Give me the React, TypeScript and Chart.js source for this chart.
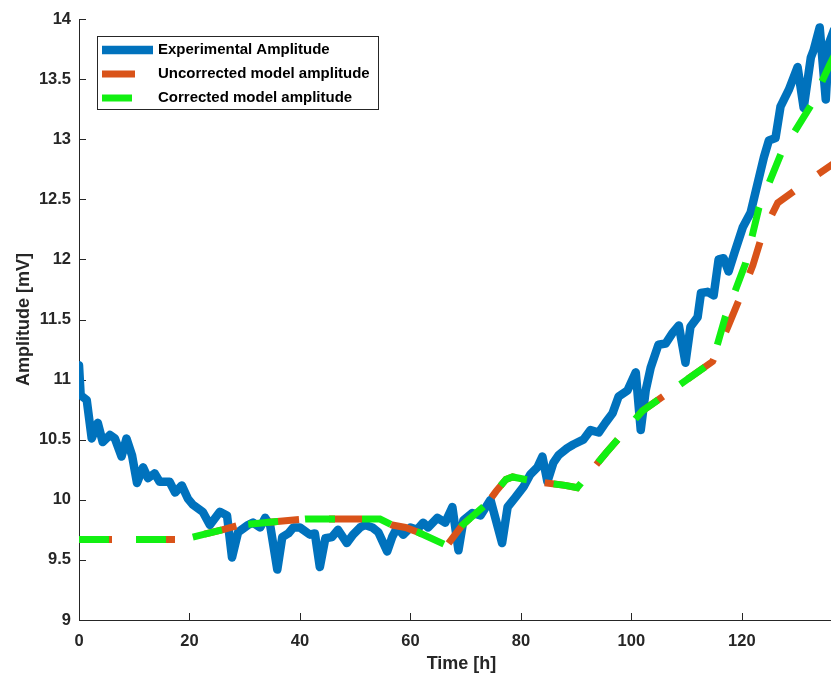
import React, { useEffect, useRef } from "react";
import { Chart, registerables } from "chart.js";

Chart.register(...registerables);

// ---------- data ----------
const EXP_T = [0, 0.3, 1.4, 2.3, 3.4, 4.3, 5.6, 6.5, 7.7, 8.6,
  9.6, 10.5, 11.6, 12.5, 13.7, 14.6, 16.4, 17.4, 18.6, 19.7,
  20.6, 22.4, 23.7, 25.5, 26.8, 27.7, 28.8, 30.6, 31.5, 32.8,
  33.7, 34.6, 35.9, 36.8, 37.9, 38.8, 40.0, 41.8, 42.7, 43.6,
  44.6, 45.8, 46.9, 48.5, 49.6, 50.9, 51.8, 53.1, 54.2, 55.8,
  56.7, 57.6, 58.7, 60.0, 61.2, 62.3, 63.2, 64.9, 66.3, 67.6,
  68.7, 69.6, 71.2, 72.7, 74.5, 76.6, 77.6, 79.0, 80.5, 81.7,
  83.0, 83.9, 84.8, 85.9, 86.8, 88.4, 89.5, 91.3, 92.6, 94.1,
  95.3, 96.6, 97.7, 99.3, 100.8, 101.7, 102.6, 103.5, 104.9, 106.2,
  107.5, 108.6, 109.8, 110.7, 112.0, 112.6, 113.8, 114.9, 115.8, 116.7,
  117.6, 118.7, 120.2, 121.6, 122.9, 124.0, 124.9, 126.1, 127.0, 128.5,
  130.1, 131.2, 132.5, 133.0, 134.1, 135.2, 135.8, 136.7];
const EXP_V = [11.12, 10.87, 10.83, 10.51, 10.64, 10.48, 10.54, 10.51, 10.36, 10.51,
  10.37, 10.14, 10.27, 10.18, 10.22, 10.15, 10.15, 10.06, 10.12, 10.01,
  9.96, 9.90, 9.79, 9.90, 9.87, 9.52, 9.73, 9.79, 9.81, 9.77,
  9.85, 9.79, 9.42, 9.69, 9.72, 9.77, 9.77, 9.71, 9.72, 9.44,
  9.68, 9.69, 9.75, 9.64, 9.71, 9.77, 9.79, 9.77, 9.73, 9.57,
  9.69, 9.77, 9.71, 9.77, 9.75, 9.81, 9.77, 9.85, 9.81, 9.94,
  9.58, 9.83, 9.89, 9.87, 10.00, 9.64, 9.94, 10.02, 10.11, 10.21,
  10.27, 10.36, 10.15, 10.31, 10.37, 10.43, 10.46, 10.50, 10.58, 10.56,
  10.64, 10.72, 10.86, 10.91, 11.06, 10.58, 10.91, 11.10, 11.29, 11.30,
  11.39, 11.45, 11.14, 11.44, 11.52, 11.72, 11.73, 11.70, 12.00, 12.01,
  11.90, 12.06, 12.27, 12.39, 12.64, 12.85, 12.99, 13.01, 13.27, 13.41,
  13.60, 13.26, 13.68, 13.74, 13.93, 13.33, 13.80, 13.91];

const UNCORR_T = [0, 18, 20.6, 25.9, 29.1, 35.9, 41, 54.5, 56.7, 59.1, 61.4, 66.6, 69.4,
  73.9, 75.5, 77.3, 78.5, 83, 88, 90.2, 92, 95.4, 99, 102, 110.7, 114.7,
  117.4, 120, 122, 123.8, 126.5, 131, 137];
const UNCORR_V = [9.67, 9.67, 9.69, 9.75, 9.79, 9.82, 9.84, 9.84, 9.79, 9.77, 9.73, 9.62, 9.79,
  9.97, 10.07, 10.17, 10.19, 10.15, 10.12, 10.10, 10.2, 10.39, 10.58, 10.74, 11.02, 11.15,
  11.43, 11.72, 11.95, 12.22, 12.47, 12.62, 12.81];

const CORR_T = [0, 18, 20.6, 25.9, 29.1, 35.9, 41, 54.5, 56.7, 59.1, 61.4, 66.6, 69.4,
  73.9, 75.5, 77.3, 78.5, 83, 88, 90.2, 92, 95.4, 99, 102, 110.7, 114.7,
  117, 120.7, 123.1, 127.1, 132.5, 135.9, 137];
const CORR_V = [9.67, 9.67, 9.69, 9.75, 9.79, 9.82, 9.84, 9.84, 9.79, 9.77, 9.73, 9.62, 9.79,
  9.97, 10.07, 10.17, 10.19, 10.15, 10.12, 10.10, 10.2, 10.39, 10.58, 10.74, 11.02, 11.15,
  11.52, 11.97, 12.43, 12.88, 13.28, 13.62, 13.72];

const SERIES_LABELS = ["Experimental Amplitude", "Uncorrected model amplitude", "Corrected model amplitude"];
const X_TICKS = [0, 20, 40, 60, 80, 100, 120];
const Y_TICKS = [9, 9.5, 10, 10.5, 11, 11.5, 12, 12.5, 13, 13.5, 14];
const X_TITLE = "Time [h]";
const Y_TITLE = "Amplitude [mV]";

// ---------- styles ----------
const FONT = "'Liberation Sans', Arial, Helvetica, sans-serif";
const AXIS_COLOR = "#262626";
const BLUE = "#0072BD";
const ORANGE = "#D95319";
const GREEN = "#12F012";
const CANVAS_W = 844;
const CANVAS_H = 677;

const toPts = (t: number[], v: number[]) => t.map((x, i) => ({ x, y: v[i] }));

const inwardTicks = {
  id: "inwardTicks",
  beforeDatasetsDraw(chart: any) {
    const { ctx, chartArea, scales } = chart;
    ctx.save();
    ctx.strokeStyle = AXIS_COLOR;
    ctx.lineWidth = 1;
    ctx.beginPath();
    scales.x.ticks.forEach((t: any) => {
      const px = Math.round(scales.x.getPixelForValue(t.value)) + 0.5;
      ctx.moveTo(px, chartArea.bottom);
      ctx.lineTo(px, chartArea.bottom - 7);
    });
    scales.y.ticks.forEach((t: any) => {
      const py = Math.round(scales.y.getPixelForValue(t.value)) + 0.5;
      ctx.moveTo(chartArea.left, py);
      ctx.lineTo(chartArea.left + 7, py);
    });
    ctx.stroke();
    ctx.restore();
  },
};

const boxLegend = {
  id: "boxLegend",
  afterDatasetsDraw(chart: any) {
    const { ctx, chartArea } = chart;
    const bx = chartArea.left + 18;
    const by = chartArea.top + 17;
    const bw = 281;
    const bh = 73;
    ctx.save();
    ctx.fillStyle = "#ffffff";
    ctx.fillRect(bx, by, bw, bh);
    ctx.strokeStyle = AXIS_COLOR;
    ctx.lineWidth = 1;
    ctx.strokeRect(Math.round(bx) + 0.5, Math.round(by) + 0.5, bw, bh);
    const rows = [31, 55, 79];
    chart.data.datasets.forEach((ds: any, i: number) => {
      const y = chartArea.top + rows[i];
      ctx.save();
      ctx.beginPath();
      ctx.rect(bx + 5, by, 51, bh);
      ctx.clip();
      ctx.strokeStyle = ds.borderColor;
      ctx.lineWidth = ds.borderWidth;
      ctx.setLineDash(ds.borderDash || []);
      ctx.lineCap = "butt";
      ctx.beginPath();
      ctx.moveTo(bx + 5, y);
      ctx.lineTo(bx + 56, y);
      ctx.stroke();
      ctx.restore();
      ctx.fillStyle = "#000000";
      ctx.font = `bold 15px ${FONT}`;
      ctx.textBaseline = "middle";
      ctx.textAlign = "left";
      ctx.fillText(ds.label, bx + 61, y);
    });
    ctx.restore();
  },
};

export default function App() {
  const ref = useRef<HTMLCanvasElement | null>(null);

  useEffect(() => {
    if (!ref.current) return;
    const chart = new Chart(ref.current, {
      type: "line",
      data: {
        datasets: [
          {
            label: SERIES_LABELS[0],
            data: toPts(EXP_T, EXP_V),
            borderColor: BLUE,
            backgroundColor: BLUE,
            borderWidth: 8.5,
            pointRadius: 0,
            tension: 0,
            borderJoinStyle: "round",
            borderCapStyle: "round",
            order: 3,
          },
          {
            label: SERIES_LABELS[1],
            data: toPts(UNCORR_T, UNCORR_V),
            borderColor: ORANGE,
            backgroundColor: ORANGE,
            borderWidth: 7,
            borderDash: [33, 30],
            pointRadius: 0,
            tension: 0,
            borderCapStyle: "butt",
            order: 2,
          },
          {
            label: SERIES_LABELS[2],
            data: toPts(CORR_T, CORR_V),
            borderColor: GREEN,
            backgroundColor: GREEN,
            borderWidth: 7,
            borderDash: [30, 27],
            pointRadius: 0,
            tension: 0,
            borderCapStyle: "butt",
            order: 1,
          },
        ],
      },
      options: {
        animation: false,
        responsive: false,
        maintainAspectRatio: false,
        layout: { padding: { top: 19, right: 0, left: 0, bottom: 0 } },
        plugins: { legend: { display: false }, tooltip: { enabled: false } },
        scales: {
          x: {
            type: "linear",
            min: 0,
            max: 138.5,
            afterBuildTicks: (s: any) => { s.ticks = X_TICKS.map((v) => ({ value: v })); },
            afterFit: (s: any) => { s.height = 57; },
            grid: { display: true, drawOnChartArea: false, drawTicks: false, color: "rgba(0,0,0,0)" },
            border: { display: true, color: AXIS_COLOR, width: 1 },
            ticks: {
              padding: 12,
              color: AXIS_COLOR,
              font: { family: FONT, size: 16.5, weight: "bold" },
              maxRotation: 0,
            },
            title: {
              display: true,
              text: X_TITLE,
              color: AXIS_COLOR,
              font: { family: FONT, size: 18, weight: "bold" },
              padding: { top: 0, bottom: 2 },
            },
          },
          y: {
            type: "linear",
            min: 9,
            max: 14,
            afterBuildTicks: (s: any) => { s.ticks = Y_TICKS.map((v) => ({ value: v })); },
            afterFit: (s: any) => { s.width = 79; },
            grid: { display: true, drawOnChartArea: false, drawTicks: false, color: "rgba(0,0,0,0)" },
            border: { display: true, color: AXIS_COLOR, width: 1 },
            ticks: {
              padding: 8,
              color: AXIS_COLOR,
              font: { family: FONT, size: 16.5, weight: "bold" },
              callback: (v: any) => String(v),
            },
            title: {
              display: true,
              text: Y_TITLE,
              color: AXIS_COLOR,
              font: { family: FONT, size: 18, weight: "bold" },
              padding: { top: 13, bottom: 0 },
            },
          },
        },
      },
      plugins: [inwardTicks, boxLegend],
    } as any);
    return () => chart.destroy();
  }, []);

  return (
    <div style={{ position: "fixed", left: 0, top: 0, width: CANVAS_W, height: CANVAS_H, background: "#ffffff" }}>
      <canvas ref={ref} width={CANVAS_W} height={CANVAS_H} style={{ width: CANVAS_W, height: CANVAS_H, display: "block" }} />
    </div>
  );
}
